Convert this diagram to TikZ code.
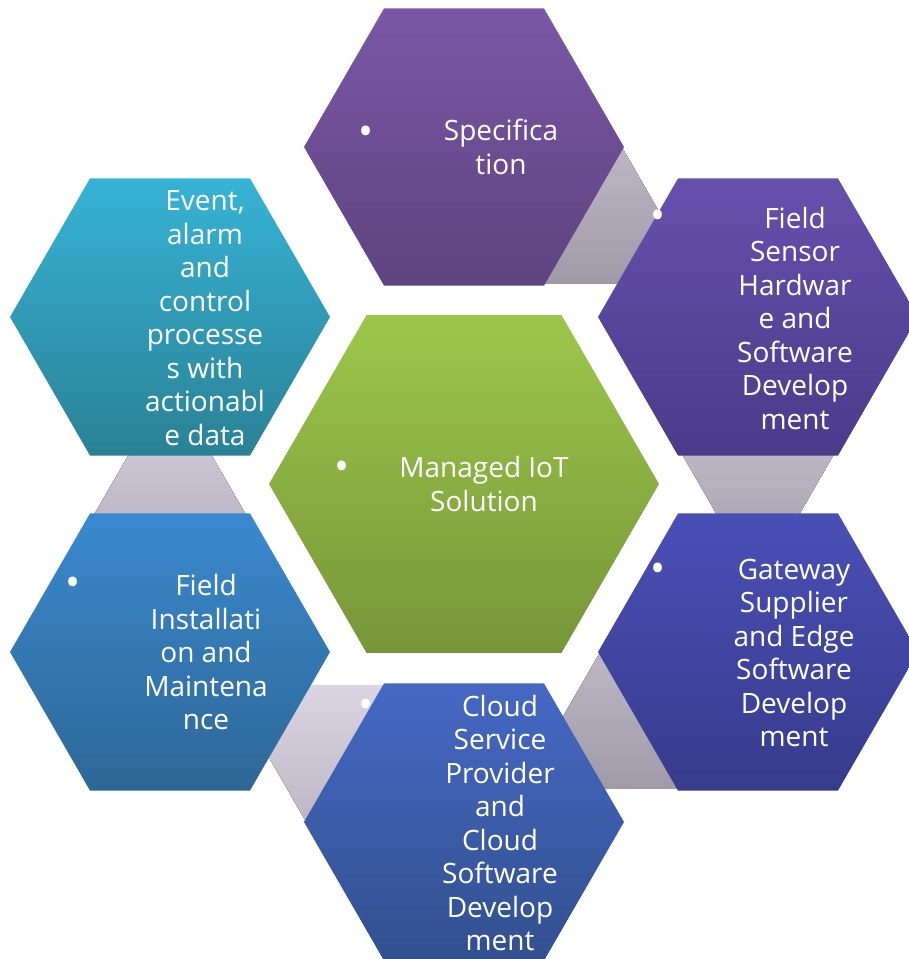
\documentclass[tikz,border=0pt]{standalone}
\usepackage{fontspec}
\setmainfont{Open Sans}
\usetikzlibrary{shapes.geometric,calc,backgrounds}

\definecolor{specTop}{HTML}{7B57A6}\definecolor{specBot}{HTML}{5F4380}
\definecolor{sensTop}{HTML}{6650AE}\definecolor{sensBot}{HTML}{4A3B8A}
\definecolor{gateTop}{HTML}{4A4FB6}\definecolor{gateBot}{HTML}{373B8C}
\definecolor{clouTop}{HTML}{4668C4}\definecolor{clouBot}{HTML}{32508F}
\definecolor{instTop}{HTML}{3A89CF}\definecolor{instBot}{HTML}{2E6796}
\definecolor{evntTop}{HTML}{37B3D5}\definecolor{evntBot}{HTML}{2A8196}
\definecolor{iotTop}{HTML}{9CC74A}\definecolor{iotBot}{HTML}{77963A}
\definecolor{linkTop}{HTML}{DAD4E3}\definecolor{linkBot}{HTML}{9F99A8}

\tikzset{
	hexa/.style={regular polygon, regular polygon sides=6, minimum size=320pt,
		inner sep=0pt, outer sep=0pt},
	lbl/.style={text=white, align=center, font=\fontsize{28}{33.5}\selectfont},
	bul/.style={text=white, inner sep=0pt, font=\fontsize{40}{40}\selectfont},
	linkfill/.style={top color=linkTop, bottom color=linkBot},
}
% wedge from one hexagon into the next
\newcommand{\hexlink}[2]{%
	\coordinate (tip) at ($(#2)!66pt!(#1)$);
	\fill[linkfill] (tip) -- ($(tip)!1.1547!30:(#1)$) -- ($(tip)!1.1547!-30:(#1)$) -- cycle;}

\begin{document}
\begin{tikzpicture}[x=1pt,y=1pt]
	\useasboundingbox (0,0) rectangle (909,-959);
	\node[hexa, top color=specTop, bottom color=specBot] (spec) at (464,-147) {};
	\node[hexa, top color=sensTop, bottom color=sensBot] (sens) at (758,-317) {};
	\node[hexa, top color=gateTop, bottom color=gateBot] (gate) at (758,-652) {};
	\node[hexa, top color=clouTop, bottom color=clouBot] (clou) at (464,-822) {};
	\node[hexa, top color=instTop, bottom color=instBot] (inst) at (170,-652) {};
	\node[hexa, top color=evntTop, bottom color=evntBot] (evnt) at (170,-317) {};
	\node[hexa, minimum size=390pt, top color=iotTop, bottom color=iotBot] (iot) at (464,-484) {};
	%
	\begin{scope}[on background layer]
		\hexlink{spec}{sens}
		\hexlink{sens}{gate}
		\hexlink{gate}{clou}
		\hexlink{clou}{inst}
		\hexlink{inst}{evnt}
	\end{scope}
	%
	\node[bul] (spec-b) at (366,-136) {•};
	\node[lbl] (spec-t) at (501,-147) {Specifica\\tion};
	\node[bul] (sens-b) at (658,-220) {•};
	\node[lbl] (sens-t) at (795,-318) {Field\\Sensor\\Hardwar\\e and\\Software\\Develop\\ment};
	\node[bul] (gate-b) at (658,-573) {•};
	\node[lbl] (gate-t) at (794,-653) {Gateway\\Supplier\\and Edge\\Software\\Develop\\ment};
	\node[bul] (clou-b) at (366,-709) {•};
	\node[lbl] (clou-t) at (500,-823) {Cloud\\Service\\Provider\\and\\Cloud\\Software\\Develop\\ment};
	\node[bul] (inst-b) at (73,-587) {•};
	\node[lbl] (inst-t) at (206,-652) {Field\\Installati\\on and\\Maintena\\nce};
	\node[lbl] (evnt-t) at (205,-318) {Event,\\alarm\\and\\control\\processe\\s with\\actionabl\\e data};
	\node[bul] (iot-b) at (342,-471) {•};
	\node[lbl] (iot-t) at (484,-484) {Managed IoT\\Solution};
\end{tikzpicture}
\end{document}
